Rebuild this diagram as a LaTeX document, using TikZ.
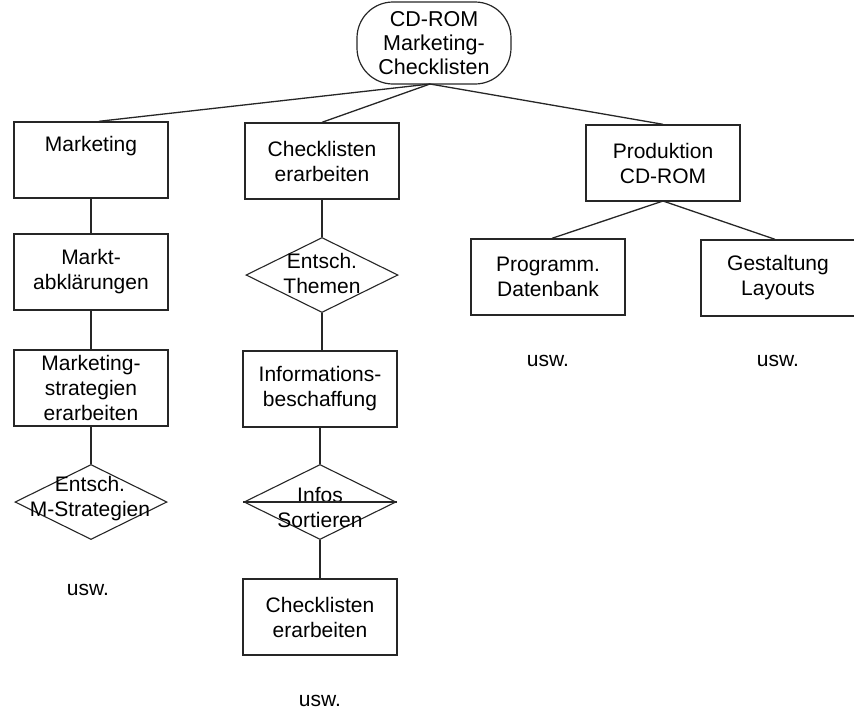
\documentclass[tikz,border=0pt]{standalone}
\usepackage{fontspec}
\setmainfont{Liberation Sans}
\usetikzlibrary{shapes.geometric}
\begin{document}
\begin{tikzpicture}[x=1pt,y=-1pt,
  every node/.style={font=\fontsize{21}{25}\selectfont, align=center},
  conn/.style={draw=black!85, line width=1.3pt},
  box/.style={draw=black!85, line width=1.4pt, rectangle, inner sep=0pt, minimum width=154pt, minimum height=76pt},
  dia/.style={draw=black!85, line width=1.1pt, diamond, inner sep=0pt, minimum width=152pt, minimum height=75pt, aspect=2},
  lbl/.style={inner sep=0pt}
]
\useasboundingbox (0,0) rectangle (854,713);
% top node
\node[draw=black!85, line width=1.2pt, rounded corners=36pt, minimum width=154pt, minimum height=82pt, inner sep=0pt] (top) at (434,43) {\rule{0pt}{0pt}};
\node[lbl, font=\fontsize{21.5}{24}\selectfont] (toptxt) at (434,43) {CD-ROM\\Marketing-\\Checklisten};
% first row
\node[box] (mk) at (91,160) {Marketing\\\strut};
\node[box] (cl) at (322,161) {Checklisten\\erarbeiten};
\node[box] (pr) at (663,163) {Produktion\\CD-ROM};
% marketing column
\node[box] (ma) at (91,272) {Markt-\\abklärungen};
\node[box] (ms) at (91,388) {Marketing-\\strategien\\erarbeiten};
\node[dia] (ems) at (91,502) {};
\node[lbl] (emstxt) at (90,499) {Entsch.\\M-Strategien};
\node[lbl] (usw1) at (88,590) {usw.};
% checklisten column
\node[dia] (eth) at (322,275) {};
\node[lbl] (ethtxt) at (322,273) {Entsch.\\Themen};
\node[box] (ib) at (320,389) {Informations-\\beschaffung};
\node[dia] (isort) at (320,502) {};
\node[lbl] (isorttxt) at (320,507) {Infos\\Sortieren};
\node[box] (ce) at (320,617) {Checklisten\\erarbeiten};
\node[lbl] (usw2) at (320,701) {usw.};
% produktion
\node[box] (pd) at (548,277) {Programm.\\Datenbank};
\node[box] (gl) at (778,278) {Gestaltung\\Layouts};
\node[lbl] (usw3) at (548,361) {usw.};
\node[lbl] (usw4) at (778,361) {usw.};
% connectors
\coordinate (tb) at (430,84);
\draw[conn] (tb) -- ([xshift=8pt]mk.north);
\draw[conn] (tb) -- (cl.north);
\draw[conn] (tb) -- (pr.north);
\draw[conn] (mk.south) -- (ma.north);
\draw[conn] (ma.south) -- (ms.north);
\draw[conn] (ms.south) -- (ems.north);
\draw[conn] (cl.south) -- (eth.north);
\draw[conn] (eth.south) -- (eth.south |- ib.north);
\draw[conn] (ib.south) -- (isort.north);
\draw[conn] (isort.south) -- (ce.north);
\draw[conn] (isort.west) -- (isort.east);
\coordinate (pb) at (663,201);
\draw[conn] (pb) -- ([xshift=4pt]pd.north);
\draw[conn] (pb) -- ([xshift=-3pt]gl.north);
\end{tikzpicture}
\end{document}
